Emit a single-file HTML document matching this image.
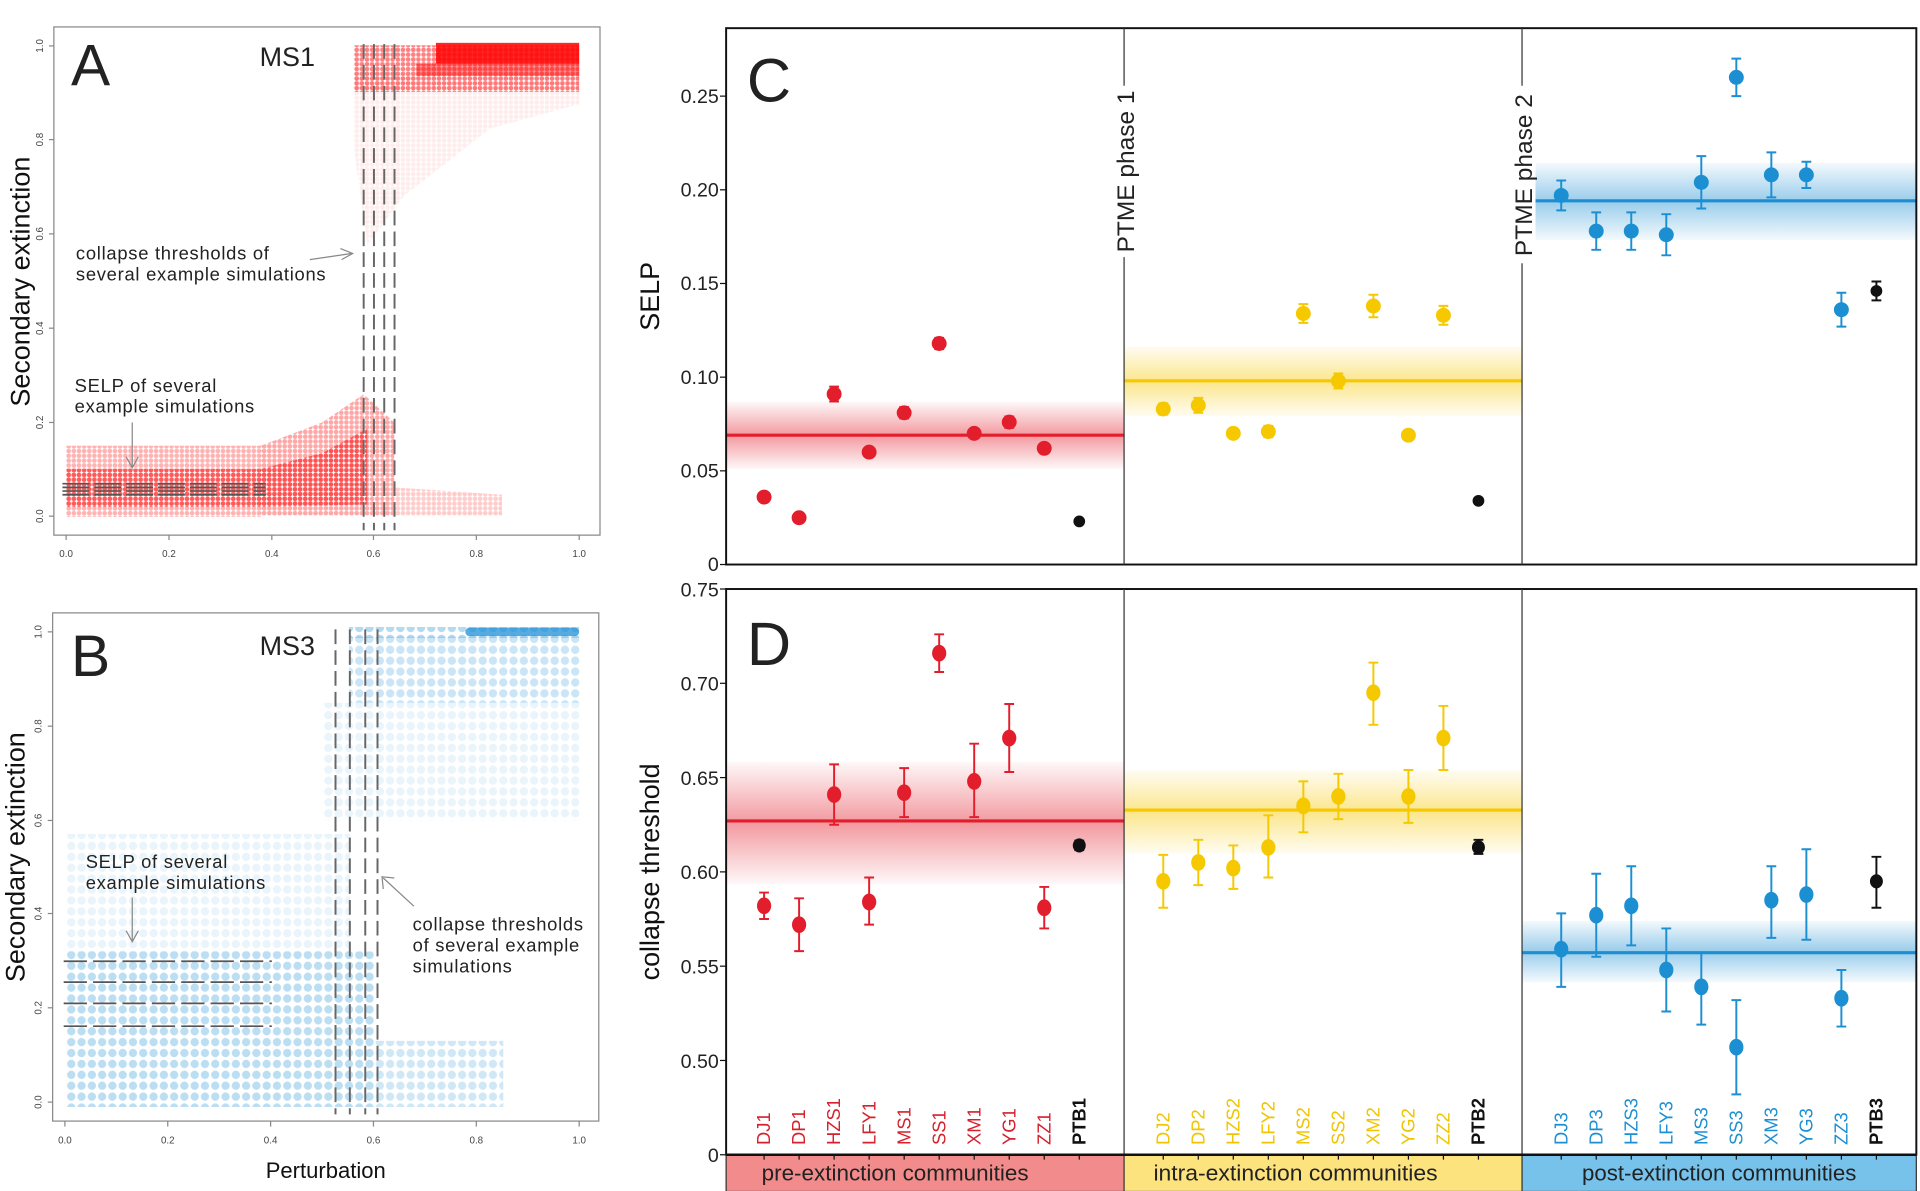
<!DOCTYPE html>
<html><head><meta charset="utf-8"><style>
html,body{margin:0;padding:0;background:#fff;}
svg{display:block;font-family:"Liberation Sans",sans-serif;}
</style></head><body>
<svg width="1920" height="1191" viewBox="0 0 1568 972.6" preserveAspectRatio="none" xmlns="http://www.w3.org/2000/svg">
<defs>
<pattern id="pb" x="54" y="900" width="8.4" height="8.9" patternUnits="userSpaceOnUse"><circle cx="4.2" cy="4.45" r="3.4" fill="#58ade0"/></pattern>
<pattern id="pr" x="54" y="421" width="4.2" height="3.9" patternUnits="userSpaceOnUse"><circle cx="2.1" cy="1.95" r="1.9" fill="#ff0000"/></pattern>
<linearGradient id="gr" x1="0" y1="0" x2="0" y2="1"><stop offset="0" stop-color="#e31e2c" stop-opacity="0.03"/><stop offset="0.5" stop-color="#e31e2c" stop-opacity="0.45"/><stop offset="1" stop-color="#e31e2c" stop-opacity="0.03"/></linearGradient>
<linearGradient id="gy" x1="0" y1="0" x2="0" y2="1"><stop offset="0" stop-color="#f7c800" stop-opacity="0.05"/><stop offset="0.5" stop-color="#f7c800" stop-opacity="0.45"/><stop offset="1" stop-color="#f7c800" stop-opacity="0.05"/></linearGradient>
<linearGradient id="gb" x1="0" y1="0" x2="0" y2="1"><stop offset="0" stop-color="#1c8fd3" stop-opacity="0.05"/><stop offset="0.5" stop-color="#1c8fd3" stop-opacity="0.45"/><stop offset="1" stop-color="#1c8fd3" stop-opacity="0.05"/></linearGradient>
</defs>

<!-- ============ Panel A ============ -->
<g>
<g fill="url(#pr)">
<rect x="54" y="364" width="160" height="58" opacity="0.3"/>
<rect x="54" y="383" width="160" height="31" opacity="0.5"/>
<polygon points="213,364 263,345 297,322 322,345 322,421 213,421" opacity="0.35"/>
<polygon points="213,383 263,370 300,350 300,412 213,414" opacity="0.5"/>
<polygon points="322,398 410,404 410,421 322,421" opacity="0.2"/>
<polygon points="289,60 473,60 473,85 400,105 330,160 300,200 289,120" opacity="0.07"/>
<rect x="289" y="37" width="184" height="38" opacity="0.5"/>
</g>
<rect x="356" y="35" width="117" height="17" fill="#ff0000" opacity="0.85"/>
<rect x="340" y="52" width="133" height="10" fill="#ff0000" opacity="0.45"/>
<rect x="44" y="22" width="446" height="415" fill="none" stroke="#888" stroke-width="1"/>
<g stroke="#666" stroke-width="1.6" stroke-dasharray="12,5">
<line x1="297" y1="36" x2="297" y2="433"/><line x1="305.4" y1="36" x2="305.4" y2="433"/><line x1="313.8" y1="36" x2="313.8" y2="433"/><line x1="322.2" y1="36" x2="322.2" y2="433"/>
</g>
<g stroke="#555" stroke-width="1.4" stroke-dasharray="22,4">
<line x1="51" y1="395" x2="217" y2="395"/><line x1="51" y1="398" x2="217" y2="398"/><line x1="51" y1="401" x2="217" y2="401"/><line x1="51" y1="404" x2="217" y2="404"/>
</g>
<g stroke="#888" stroke-width="1">
<line x1="44" y1="37.5" x2="40" y2="37.5"/><line x1="44" y1="114" x2="40" y2="114"/><line x1="44" y1="191" x2="40" y2="191"/><line x1="44" y1="268" x2="40" y2="268"/><line x1="44" y1="345" x2="40" y2="345"/><line x1="44" y1="421.5" x2="40" y2="421.5"/>
<line x1="54" y1="437" x2="54" y2="441"/><line x1="138" y1="437" x2="138" y2="441"/><line x1="222" y1="437" x2="222" y2="441"/><line x1="305" y1="437" x2="305" y2="441"/><line x1="389" y1="437" x2="389" y2="441"/><line x1="473" y1="437" x2="473" y2="441"/>
</g>
<g font-size="8" fill="#444" text-anchor="middle">
<text transform="translate(35,37.5) rotate(-90)">1.0</text><text transform="translate(35,114) rotate(-90)">0.8</text><text transform="translate(35,191) rotate(-90)">0.6</text><text transform="translate(35,268) rotate(-90)">0.4</text><text transform="translate(35,345) rotate(-90)">0.2</text><text transform="translate(35,421.5) rotate(-90)">0.0</text>
<text x="54" y="455">0.0</text><text x="138" y="455">0.2</text><text x="222" y="455">0.4</text><text x="305" y="455">0.6</text><text x="389" y="455">0.8</text><text x="473" y="455">1.0</text>
</g>
<text x="58" y="70" font-size="48" fill="#222">A</text>
<text x="212" y="54" font-size="22" fill="#222">MS1</text>
<text x="62" y="212" font-size="15" fill="#222" letter-spacing="0.6">collapse thresholds of</text>
<text x="62" y="229" font-size="15" fill="#222" letter-spacing="0.6">several example simulations</text>
<line x1="253" y1="212" x2="287" y2="207" stroke="#888" stroke-width="1"/><polyline points="278,203 288,207 279,212" fill="none" stroke="#888" stroke-width="1"/>
<text x="61" y="320" font-size="15" fill="#222" letter-spacing="0.6">SELP of several</text>
<text x="61" y="337" font-size="15" fill="#222" letter-spacing="0.6">example simulations</text>
<line x1="108" y1="345" x2="108" y2="381" stroke="#888" stroke-width="1"/><polyline points="103,373 108,382 113,373" fill="none" stroke="#888" stroke-width="1"/>
<text transform="translate(24,230) rotate(-90)" font-size="22" fill="#111" text-anchor="middle">Secondary extinction</text>
</g>

<!-- ============ Panel B ============ -->
<g>
<g fill="url(#pb)">
<rect x="54" y="777" width="252" height="127" opacity="0.4"/>
<rect x="54" y="681" width="232" height="96" opacity="0.13"/>
<rect x="306" y="850" width="105" height="54" opacity="0.28"/>
<rect x="263" y="574" width="210" height="96" opacity="0.13"/>
<rect x="285" y="520" width="188" height="54" opacity="0.32"/>
<rect x="285" y="512" width="188" height="9" opacity="0.45"/>
</g>
<rect x="380" y="512.5" width="93" height="7" rx="3.5" fill="#1f8fd6" opacity="0.75"/>
<rect x="43" y="500.5" width="446" height="415" fill="none" stroke="#888" stroke-width="1"/>
<g stroke="#666" stroke-width="1.6" stroke-dasharray="12,5">
<line x1="274" y1="514" x2="274" y2="910"/><line x1="285.7" y1="514" x2="285.7" y2="910"/><line x1="298.3" y1="514" x2="298.3" y2="910"/><line x1="308.3" y1="514" x2="308.3" y2="910"/>
</g>
<g stroke="#555" stroke-width="1.4" stroke-dasharray="19,5">
<line x1="52" y1="785" x2="222" y2="785"/><line x1="52" y1="802" x2="222" y2="802"/><line x1="52" y1="819.4" x2="222" y2="819.4"/><line x1="52" y1="838" x2="222" y2="838"/>
</g>
<g stroke="#888" stroke-width="1">
<line x1="43" y1="516" x2="39" y2="516"/><line x1="43" y1="593" x2="39" y2="593"/><line x1="43" y1="670" x2="39" y2="670"/><line x1="43" y1="746" x2="39" y2="746"/><line x1="43" y1="823" x2="39" y2="823"/><line x1="43" y1="900" x2="39" y2="900"/>
<line x1="53" y1="915.5" x2="53" y2="920"/><line x1="137" y1="915.5" x2="137" y2="920"/><line x1="221" y1="915.5" x2="221" y2="920"/><line x1="305" y1="915.5" x2="305" y2="920"/><line x1="389" y1="915.5" x2="389" y2="920"/><line x1="473" y1="915.5" x2="473" y2="920"/>
</g>
<g font-size="8" fill="#444" text-anchor="middle">
<text transform="translate(34,516) rotate(-90)">1.0</text><text transform="translate(34,593) rotate(-90)">0.8</text><text transform="translate(34,670) rotate(-90)">0.6</text><text transform="translate(34,746) rotate(-90)">0.4</text><text transform="translate(34,823) rotate(-90)">0.2</text><text transform="translate(34,900) rotate(-90)">0.0</text>
<text x="53" y="934">0.0</text><text x="137" y="934">0.2</text><text x="221" y="934">0.4</text><text x="305" y="934">0.6</text><text x="389" y="934">0.8</text><text x="473" y="934">1.0</text>
</g>
<text x="58" y="552" font-size="48" fill="#222">B</text>
<text x="212" y="535" font-size="22" fill="#222">MS3</text>
<text x="70" y="709" font-size="15" fill="#222" letter-spacing="0.6">SELP of several</text>
<text x="70" y="726" font-size="15" fill="#222" letter-spacing="0.6">example simulations</text>
<line x1="108" y1="733" x2="108" y2="768" stroke="#888" stroke-width="1"/><polyline points="103,760 108,769 113,760" fill="none" stroke="#888" stroke-width="1"/>
<text x="337" y="760" font-size="15" fill="#222" letter-spacing="0.6">collapse thresholds</text>
<text x="337" y="777" font-size="15" fill="#222" letter-spacing="0.6">of several example</text>
<text x="337" y="794" font-size="15" fill="#222" letter-spacing="0.6">simulations</text>
<line x1="338" y1="740" x2="313" y2="717" stroke="#888" stroke-width="1"/><polyline points="313,726 312,716 322,717" fill="none" stroke="#888" stroke-width="1"/>
<text transform="translate(20,700) rotate(-90)" font-size="22" fill="#111" text-anchor="middle">Secondary extinction</text>
<text x="266" y="962" font-size="18" fill="#111" text-anchor="middle">Perturbation</text>
</g>

<!-- ============ Panel C ============ -->
<g>
<rect x="593" y="328" width="325" height="55" fill="url(#gr)"/>
<rect x="918" y="283" width="325" height="57" fill="url(#gy)"/>
<rect x="1243" y="133" width="322" height="63" fill="url(#gb)"/>
<line x1="593" y1="355.4" x2="918" y2="355.4" stroke="#e31e2c" stroke-width="2.6"/>
<line x1="918" y1="311" x2="1243" y2="311" stroke="#f5c800" stroke-width="2.6"/>
<line x1="1243" y1="164" x2="1565" y2="164" stroke="#1c8fd3" stroke-width="2.6"/>
<rect x="593" y="23" width="972" height="438" fill="none" stroke="#111" stroke-width="1.6"/>
<line x1="918" y1="23" x2="918" y2="461" stroke="#333" stroke-width="1"/>
<line x1="1243" y1="23" x2="1243" y2="461" stroke="#333" stroke-width="1"/>
<rect x="907" y="70" width="22" height="140" fill="#fff"/>
<rect x="1232" y="70" width="22" height="145" fill="#fff"/>
<text transform="translate(926,140) rotate(-90)" font-size="20" fill="#222" text-anchor="middle">PTME  phase 1</text>
<text transform="translate(1251,143) rotate(-90)" font-size="20" fill="#222" text-anchor="middle">PTME  phase 2</text>
<g stroke="#111" stroke-width="1"><line x1="593" y1="78.5" x2="588" y2="78.5"/><line x1="593" y1="155" x2="588" y2="155"/><line x1="593" y1="231.5" x2="588" y2="231.5"/><line x1="593" y1="308" x2="588" y2="308"/><line x1="593" y1="384.5" x2="588" y2="384.5"/><line x1="593" y1="461" x2="588" y2="461"/></g>
<g font-size="16" fill="#222" text-anchor="end">
<text x="587" y="84">0.25</text><text x="587" y="160.5">0.20</text><text x="587" y="237">0.15</text><text x="587" y="313.5">0.10</text><text x="587" y="390">0.05</text><text x="587" y="466.5">0</text>
</g>
<text transform="translate(538,242) rotate(-90)" font-size="22" fill="#111" text-anchor="middle">SELP</text>
<text x="610" y="83" font-size="50" fill="#222">C</text>
<g stroke="#e31e2c" stroke-width="1.6" fill="#e31e2c">
<path d="M624 402.8V409M620 402.8H628M620 409H628"/><circle cx="624" cy="405.9" r="5.3"/>
<path d="M652.6 421.3V424.3M648.6 421.3H656.6M648.6 424.3H656.6"/><circle cx="652.6" cy="422.8" r="5.3"/>
<path d="M681.2 315.7V327.9M677.2 315.7H685.2M677.2 327.9H685.2"/><circle cx="681.2" cy="321.8" r="5.3"/>
<path d="M709.8 366.1V372.3M705.8 366.1H713.8M705.8 372.3H713.8"/><circle cx="709.8" cy="369.2" r="5.3"/>
<path d="M738.4 332.5V341.7M734.4 332.5H742.4M734.4 341.7H742.4"/><circle cx="738.4" cy="337.1" r="5.3"/>
<path d="M767 275.9V285.1M763 275.9H771M763 285.1H771"/><circle cx="767" cy="280.5" r="5.3"/>
<path d="M795.6 350.8V357M791.6 350.8H799.6M791.6 357H799.6"/><circle cx="795.6" cy="353.9" r="5.3"/>
<path d="M824.2 340.1V349.3M820.2 340.1H828.2M820.2 349.3H828.2"/><circle cx="824.2" cy="344.7" r="5.3"/>
<path d="M852.8 363V369.2M848.8 363H856.8M848.8 369.2H856.8"/><circle cx="852.8" cy="366.1" r="5.3"/>
</g>
<g stroke="#111" stroke-width="1.6" fill="#111"><path d="M881.4 424.3V427.3M877.4 424.3H885.4M877.4 427.3H885.4"/><circle cx="881.4" cy="425.8" r="4"/></g>
<g stroke="#f5c800" stroke-width="1.6" fill="#f5c800">
<path d="M950 329.4V338.6M946 329.4H954M946 338.6H954"/><circle cx="950" cy="334" r="5.3"/>
<path d="M978.6 324.9V337.1M974.6 324.9H982.6M974.6 337.1H982.6"/><circle cx="978.6" cy="331" r="5.3"/>
<path d="M1007.2 350.8V357M1003.2 350.8H1011.2M1003.2 357H1011.2"/><circle cx="1007.2" cy="353.9" r="5.3"/>
<path d="M1035.8 347.8V357M1031.8 347.8H1039.8M1031.8 357H1039.8"/><circle cx="1035.8" cy="352.4" r="5.3"/>
<path d="M1064.4 248.3V263.7M1060.4 248.3H1068.4M1060.4 263.7H1068.4"/><circle cx="1064.4" cy="256" r="5.3"/>
<path d="M1093 305V317.2M1089 305H1097M1089 317.2H1097"/><circle cx="1093" cy="311.1" r="5.3"/>
<path d="M1121.6 240.7V259.1M1117.6 240.7H1125.6M1117.6 259.1H1125.6"/><circle cx="1121.6" cy="249.9" r="5.3"/>
<path d="M1150.2 352.3V358.5M1146.2 352.3H1154.2M1146.2 358.5H1154.2"/><circle cx="1150.2" cy="355.4" r="5.3"/>
<path d="M1178.8 249.8V265.2M1174.8 249.8H1182.8M1174.8 265.2H1182.8"/><circle cx="1178.8" cy="257.5" r="5.3"/>
</g>
<g stroke="#111" stroke-width="1.6" fill="#111"><path d="M1207.4 407.5V410.5M1203.4 407.5H1211.4M1203.4 410.5H1211.4"/><circle cx="1207.4" cy="409" r="4"/></g>
<g stroke="#1c8fd3" stroke-width="1.6" fill="#1c8fd3">
<path d="M1275 147.4V171.8M1271 147.4H1279M1271 171.8H1279"/><circle cx="1275" cy="159.6" r="5.3"/>
<path d="M1303.6 173.4V204M1299.6 173.4H1307.6M1299.6 204H1307.6"/><circle cx="1303.6" cy="188.7" r="5.3"/>
<path d="M1332.2 173.4V204M1328.2 173.4H1336.2M1328.2 204H1336.2"/><circle cx="1332.2" cy="188.7" r="5.3"/>
<path d="M1360.8 174.9V208.5M1356.8 174.9H1364.8M1356.8 208.5H1364.8"/><circle cx="1360.8" cy="191.7" r="5.3"/>
<path d="M1389.4 127.5V170.3M1385.4 127.5H1393.4M1385.4 170.3H1393.4"/><circle cx="1389.4" cy="148.9" r="5.3"/>
<path d="M1418 47.9V78.5M1414 47.9H1422M1414 78.5H1422"/><circle cx="1418" cy="63.2" r="5.3"/>
<path d="M1446.6 124.4V161.2M1442.6 124.4H1450.6M1442.6 161.2H1450.6"/><circle cx="1446.6" cy="142.8" r="5.3"/>
<path d="M1475.2 132.1V153.5M1471.2 132.1H1479.2M1471.2 153.5H1479.2"/><circle cx="1475.2" cy="142.8" r="5.3"/>
<path d="M1503.8 239.1V266.7M1499.8 239.1H1507.8M1499.8 266.7H1507.8"/><circle cx="1503.8" cy="252.9" r="5.3"/>
</g>
<g stroke="#111" stroke-width="1.6" fill="#111"><path d="M1532.4 229.9V245.3M1528.4 229.9H1536.4M1528.4 245.3H1536.4"/><circle cx="1532.4" cy="237.6" r="4"/></g>
</g>

<!-- ============ Panel D ============ -->
<g>
<rect x="593" y="622" width="325" height="100" fill="url(#gr)"/>
<rect x="918" y="629" width="325" height="68" fill="url(#gy)"/>
<rect x="1243" y="752" width="322" height="50" fill="url(#gb)"/>
<line x1="593" y1="670.4" x2="918" y2="670.4" stroke="#e31e2c" stroke-width="2.6"/>
<line x1="918" y1="661.5" x2="1243" y2="661.5" stroke="#f5c800" stroke-width="2.6"/>
<line x1="1243" y1="778" x2="1565" y2="778" stroke="#1c8fd3" stroke-width="2.6"/>
<rect x="593" y="481" width="972" height="462" fill="none" stroke="#111" stroke-width="1.6"/>
<line x1="918" y1="481" x2="918" y2="943" stroke="#333" stroke-width="1"/>
<line x1="1243" y1="481" x2="1243" y2="943" stroke="#333" stroke-width="1"/>
<g stroke="#111" stroke-width="1"><line x1="593" y1="481" x2="588" y2="481"/><line x1="593" y1="558" x2="588" y2="558"/><line x1="593" y1="635" x2="588" y2="635"/><line x1="593" y1="712" x2="588" y2="712"/><line x1="593" y1="789" x2="588" y2="789"/><line x1="593" y1="866" x2="588" y2="866"/><line x1="593" y1="943" x2="588" y2="943"/></g>
<g font-size="16" fill="#222" text-anchor="end">
<text x="587" y="487">0.75</text><text x="587" y="564">0.70</text><text x="587" y="641">0.65</text><text x="587" y="718">0.60</text><text x="587" y="795">0.55</text><text x="587" y="872">0.50</text><text x="587" y="949">0</text>
</g>
<text transform="translate(538,712) rotate(-90)" font-size="22" fill="#111" text-anchor="middle">collapse threshold</text>
<text x="610" y="543" font-size="50" fill="#222">D</text>
<g stroke="#e31e2c" stroke-width="1.6" fill="#e31e2c">
<path d="M624 728.9V750.5M620 728.9H628M620 750.5H628"/><ellipse cx="624" cy="739.7" rx="5" ry="6"/>
<path d="M652.6 733.6V776.7M648.6 733.6H656.6M648.6 776.7H656.6"/><ellipse cx="652.6" cy="755.1" rx="5" ry="6"/>
<path d="M681.2 624.2V673.5M677.2 624.2H685.2M677.2 673.5H685.2"/><ellipse cx="681.2" cy="648.9" rx="5" ry="6"/>
<path d="M709.8 716.6V755.1M705.8 716.6H713.8M705.8 755.1H713.8"/><ellipse cx="709.8" cy="736.6" rx="5" ry="6"/>
<path d="M738.4 627.3V667.3M734.4 627.3H742.4M734.4 667.3H742.4"/><ellipse cx="738.4" cy="647.3" rx="5" ry="6"/>
<path d="M767 518V548.8M763 518H771M763 548.8H771"/><ellipse cx="767" cy="533.4" rx="5" ry="6"/>
<path d="M795.6 607.3V667.3M791.6 607.3H799.6M791.6 667.3H799.6"/><ellipse cx="795.6" cy="638.1" rx="5" ry="6"/>
<path d="M824.2 574.9V630.4M820.2 574.9H828.2M820.2 630.4H828.2"/><ellipse cx="824.2" cy="602.7" rx="5" ry="6"/>
<path d="M852.8 724.3V758.2M848.8 724.3H856.8M848.8 758.2H856.8"/><ellipse cx="852.8" cy="741.3" rx="5" ry="6"/>
</g>
<g stroke="#111" stroke-width="1.6" fill="#111"><path d="M881.4 686.5V694.3M877.4 686.5H885.4M877.4 694.3H885.4"/><ellipse cx="881.4" cy="690.4" rx="4.5" ry="5"/></g>
<g stroke="#f5c800" stroke-width="1.6" fill="#f5c800">
<path d="M950 698.1V741.3M946 698.1H954M946 741.3H954"/><ellipse cx="950" cy="719.7" rx="5" ry="6"/>
<path d="M978.6 685.8V722.8M974.6 685.8H982.6M974.6 722.8H982.6"/><ellipse cx="978.6" cy="704.3" rx="5" ry="6"/>
<path d="M1007.2 690.4V725.9M1003.2 690.4H1011.2M1003.2 725.9H1011.2"/><ellipse cx="1007.2" cy="708.9" rx="5" ry="6"/>
<path d="M1035.8 665.8V716.6M1031.8 665.8H1039.8M1031.8 716.6H1039.8"/><ellipse cx="1035.8" cy="692" rx="5" ry="6"/>
<path d="M1064.4 638.1V679.7M1060.4 638.1H1068.4M1060.4 679.7H1068.4"/><ellipse cx="1064.4" cy="658.1" rx="5" ry="6"/>
<path d="M1093 631.9V668.9M1089 631.9H1097M1089 668.9H1097"/><ellipse cx="1093" cy="650.4" rx="5" ry="6"/>
<path d="M1121.6 541.1V591.9M1117.6 541.1H1125.6M1117.6 591.9H1125.6"/><ellipse cx="1121.6" cy="565.7" rx="5" ry="6"/>
<path d="M1150.2 628.8V672M1146.2 628.8H1154.2M1146.2 672H1154.2"/><ellipse cx="1150.2" cy="650.4" rx="5" ry="6"/>
<path d="M1178.8 576.5V628.8M1174.8 576.5H1182.8M1174.8 628.8H1182.8"/><ellipse cx="1178.8" cy="602.7" rx="5" ry="6"/>
</g>
<g stroke="#111" stroke-width="1.6" fill="#111"><path d="M1207.4 685.8V697.3M1203.4 685.8H1211.4M1203.4 697.3H1211.4"/><ellipse cx="1207.4" cy="692" rx="4.5" ry="5"/></g>
<g stroke="#1c8fd3" stroke-width="1.6" fill="#1c8fd3">
<path d="M1275 745.9V805.9M1271 745.9H1279M1271 805.9H1279"/><ellipse cx="1275" cy="775.1" rx="5" ry="6"/>
<path d="M1303.6 713.5V781.3M1299.6 713.5H1307.6M1299.6 781.3H1307.6"/><ellipse cx="1303.6" cy="747.4" rx="5" ry="6"/>
<path d="M1332.2 707.4V772M1328.2 707.4H1336.2M1328.2 772H1336.2"/><ellipse cx="1332.2" cy="739.7" rx="5" ry="6"/>
<path d="M1360.8 758.2V826M1356.8 758.2H1364.8M1356.8 826H1364.8"/><ellipse cx="1360.8" cy="792.1" rx="5" ry="6"/>
<path d="M1389.4 778.2V836.7M1385.4 778.2H1393.4M1385.4 836.7H1393.4"/><ellipse cx="1389.4" cy="805.9" rx="5" ry="6"/>
<path d="M1418 816.7V893.7M1414 816.7H1422M1414 893.7H1422"/><ellipse cx="1418" cy="855.2" rx="5" ry="6"/>
<path d="M1446.6 707.4V765.9M1442.6 707.4H1450.6M1442.6 765.9H1450.6"/><ellipse cx="1446.6" cy="735.1" rx="5" ry="6"/>
<path d="M1475.2 693.5V767.4M1471.2 693.5H1479.2M1471.2 767.4H1479.2"/><ellipse cx="1475.2" cy="730.5" rx="5" ry="6"/>
<path d="M1503.8 792.1V838.3M1499.8 792.1H1507.8M1499.8 838.3H1507.8"/><ellipse cx="1503.8" cy="815.2" rx="5" ry="6"/>
</g>
<g stroke="#111" stroke-width="1.6" fill="#111"><path d="M1532.4 699.7V741.3M1528.4 699.7H1536.4M1528.4 741.3H1536.4"/><ellipse cx="1532.4" cy="719.7" rx="4.5" ry="5"/></g>

<rect x="593" y="943" width="325" height="30" fill="#f28b8b"/>
<rect x="918" y="943" width="325" height="30" fill="#fce37e"/>
<rect x="1243" y="943" width="322" height="30" fill="#76c2ea"/>
<rect x="593" y="943" width="972" height="30" fill="none" stroke="#333" stroke-width="1"/>
<line x1="918" y1="943" x2="918" y2="973" stroke="#333"/><line x1="1243" y1="943" x2="1243" y2="973" stroke="#333"/>
<line x1="593" y1="943" x2="1565" y2="943" stroke="#111" stroke-width="2"/>
<g font-size="18" fill="#222" text-anchor="middle">
<text x="731" y="964" textLength="218" lengthAdjust="spacingAndGlyphs">pre-extinction communities</text>
<text x="1058" y="964" textLength="232" lengthAdjust="spacingAndGlyphs">intra-extinction communities</text>
<text x="1404" y="964" textLength="224" lengthAdjust="spacingAndGlyphs">post-extinction communities</text>
</g>
<g stroke="#111" stroke-width="1">
<path d="M624 943v4M652.6 943v4M681.2 943v4M709.8 943v4M738.4 943v4M767 943v4M795.6 943v4M824.2 943v4M852.8 943v4M881.4 943v4M950 943v4M978.6 943v4M1007.2 943v4M1035.8 943v4M1064.4 943v4M1093 943v4M1121.6 943v4M1150.2 943v4M1178.8 943v4M1207.4 943v4M1275 943v4M1303.6 943v4M1332.2 943v4M1360.8 943v4M1389.4 943v4M1418 943v4M1446.6 943v4M1475.2 943v4M1503.8 943v4M1532.4 943v4"/>
</g>
<g font-size="15" fill="#d6202c">
<text transform="translate(629,935) rotate(-90)">DJ1</text><text transform="translate(657.6,935) rotate(-90)">DP1</text><text transform="translate(686.2,935) rotate(-90)">HZS1</text><text transform="translate(714.8,935) rotate(-90)">LFY1</text><text transform="translate(743.4,935) rotate(-90)">MS1</text><text transform="translate(772,935) rotate(-90)">SS1</text><text transform="translate(800.6,935) rotate(-90)">XM1</text><text transform="translate(829.2,935) rotate(-90)">YG1</text><text transform="translate(857.8,935) rotate(-90)">ZZ1</text>
</g>
<g font-size="15" fill="#f0c400">
<text transform="translate(955,935) rotate(-90)">DJ2</text><text transform="translate(983.6,935) rotate(-90)">DP2</text><text transform="translate(1012.2,935) rotate(-90)">HZS2</text><text transform="translate(1040.8,935) rotate(-90)">LFY2</text><text transform="translate(1069.4,935) rotate(-90)">MS2</text><text transform="translate(1098,935) rotate(-90)">SS2</text><text transform="translate(1126.6,935) rotate(-90)">XM2</text><text transform="translate(1155.2,935) rotate(-90)">YG2</text><text transform="translate(1183.8,935) rotate(-90)">ZZ2</text>
</g>
<g font-size="15" fill="#1c8fd3">
<text transform="translate(1280,935) rotate(-90)">DJ3</text><text transform="translate(1308.6,935) rotate(-90)">DP3</text><text transform="translate(1337.2,935) rotate(-90)">HZS3</text><text transform="translate(1365.8,935) rotate(-90)">LFY3</text><text transform="translate(1394.4,935) rotate(-90)">MS3</text><text transform="translate(1423,935) rotate(-90)">SS3</text><text transform="translate(1451.6,935) rotate(-90)">XM3</text><text transform="translate(1480.2,935) rotate(-90)">YG3</text><text transform="translate(1508.8,935) rotate(-90)">ZZ3</text>
</g>
<g font-size="15" fill="#111" font-weight="bold">
<text transform="translate(886.4,935) rotate(-90)">PTB1</text><text transform="translate(1212.4,935) rotate(-90)">PTB2</text><text transform="translate(1537.4,935) rotate(-90)">PTB3</text>
</g>
</g>
</svg>
</body></html>
